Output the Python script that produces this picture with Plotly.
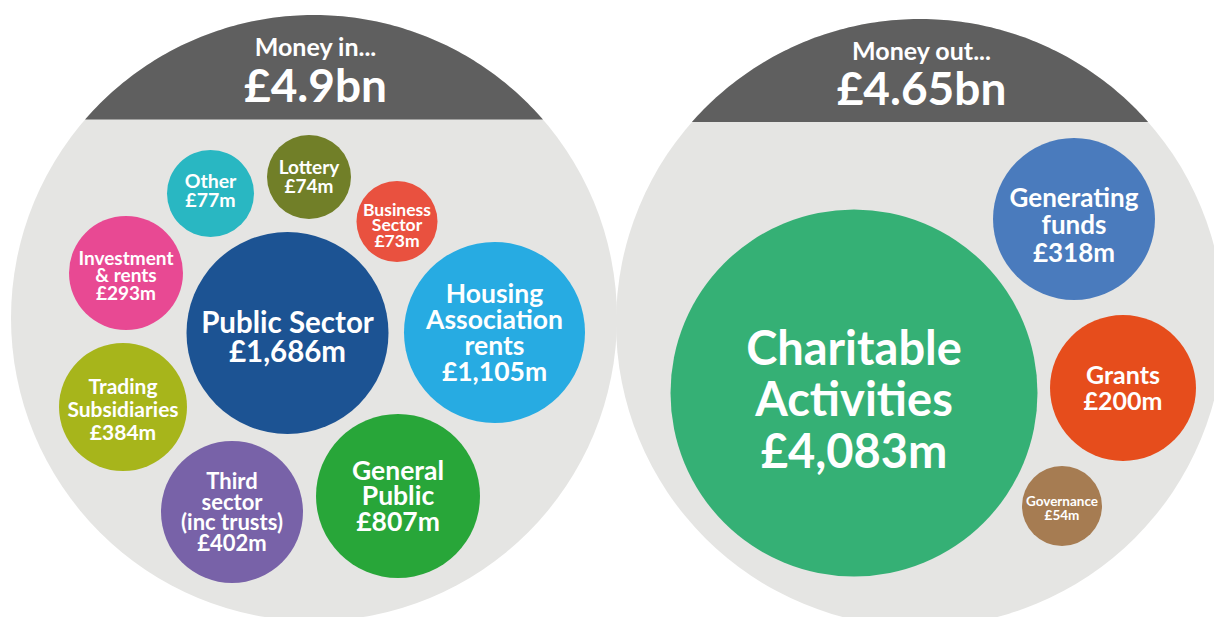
import numpy as np
import plotly.graph_objects as go

# ---------------- data ----------------
in_names = ["Other", "Lottery", "Business<br>Sector", "Investment<br>& rents", "Public Sector",
            "Housing<br>Association<br>rents", "Trading<br>Subsidiaries",
            "Third<br>sector<br>(inc trusts)", "General<br>Public"]
in_values = [77, 74, 73, 293, 1686, 1105, 384, 402, 807]

out_names = ["Charitable<br>Activities", "Generating<br>funds", "Grants", "Governance"]
out_values = [4083, 318, 200, 54]

panel_titles = ["Money in...", "Money out..."]
panel_totals = ["£4.9bn", "£4.65bn"]

# ---------------- layout (pixels) ----------------
W, H = 1214, 617
FONT = "Lato"
BASE_SHIFT = 0.07  # vertical optical correction, in em

panel_cx = [314, 920]
panel_cy = [318, 323]
panel_r = [303, 304]
panel_chord_y = [119.5, 122]
title_x = [315.5, 921.5]
title_y = [48, 52]
total_y = [87, 90]
title_size = 25
total_size = 46

in_cx = [210.5, 309, 397, 126, 287.5, 494.5, 123, 232, 398]
in_cy = [193.5, 177, 221.5, 273, 333, 332.5, 407, 512, 496]
in_r = [43.5, 42, 40.5, 57, 101, 90.5, 64, 71, 82]
in_ty = [191.5, 177.5, 225.5, 276, 338, 333.5, 410, 513, 497]
in_fs = [19.5, 19, 17.5, 19, 29.5, 26.5, 21, 22, 26.5]
in_ls = [19, 19, 15.5, 17.5, 29, 25.7, 23, 20.7, 25.7]
in_colors = ["#29b7c2", "#717f28", "#e9513f", "#e84993", "#1c5393",
             "#27abe2", "#a7b51b", "#7862a8", "#28a639"]

out_cx = [854, 1074, 1123, 1062]
out_cy = [393, 219, 388, 506]
out_r = [183.5, 81, 73, 40]
out_ty = [401, 226, 389, 508.5]
out_fs = [47, 26, 25, 13.5]
out_ls = [51.5, 27.5, 26, 13.5]
out_colors = ["#35b075", "#4a7bbd", "#e64d1c", "#a67c52"]

LIGHT = "#e5e5e3"
DARK = "#5f5f5f"

fig = go.Figure()

# big panel circles and dark caps
shapes = []
for cx, cy, r, cy_chord in zip(panel_cx, panel_cy, panel_r, panel_chord_y):
    shapes.append(dict(type="circle", xref="x", yref="y", x0=cx - r, x1=cx + r,
                       y0=cy - r, y1=cy + r, fillcolor=LIGHT, line_width=0, layer="below"))
    dy = cy - cy_chord
    a0 = np.arccos(dy / r)
    angs = np.linspace(-a0, a0, 120)
    xs = cx + r * np.sin(angs)
    ys = cy - r * np.cos(angs)
    path = "M " + " L ".join(f"{x:.2f},{y:.2f}" for x, y in zip(xs, ys)) + " Z"
    shapes.append(dict(type="path", xref="x", yref="y", path=path,
                       fillcolor=DARK, line_width=0, layer="below"))

# bubbles
def add_bubbles(cx, cy, r, colors):
    fig.add_trace(go.Scatter(
        x=cx, y=cy, mode="markers",
        marker=dict(size=[2 * v for v in r], sizemode="diameter", color=colors,
                    line=dict(width=0), opacity=1),
        hoverinfo="skip", showlegend=False))

add_bubbles(in_cx, in_cy, in_r, in_colors)
add_bubbles(out_cx, out_cy, out_r, out_colors)

# labels, line by line
lx, ly, lt, ls_ = [], [], [], []
def add_labels(names, values, cx, ty, fs, lsp):
    for name, v, x, y, f, s in zip(names, values, cx, ty, fs, lsp):
        lines = name.split("<br>") + [f"£{v:,}m"]
        n = len(lines)
        for i, t in enumerate(lines):
            lx.append(x)
            ly.append(y + (i - (n - 1) / 2) * s + BASE_SHIFT * f)
            lt.append(t)
            ls_.append(f)

add_labels(in_names, in_values, in_cx, in_ty, in_fs, in_ls)
add_labels(out_names, out_values, out_cx, out_ty, out_fs, out_ls)

for i in range(2):
    lx += [title_x[i], title_x[i]]
    ly += [title_y[i] + BASE_SHIFT * title_size, total_y[i] + BASE_SHIFT * total_size]
    lt += [panel_titles[i], panel_totals[i]]
    ls_ += [title_size, total_size]

fig.add_trace(go.Scatter(
    x=lx, y=ly, mode="text", text=lt, textposition="middle center",
    textfont=dict(family=FONT, size=ls_, color="white", weight=700),
    hoverinfo="skip", showlegend=False))

fig.update_layout(
    width=W, height=H, margin=dict(l=0, r=0, t=0, b=0),
    paper_bgcolor="white", plot_bgcolor="white",
    shapes=shapes,
    xaxis=dict(range=[0, W], visible=False, fixedrange=True),
    yaxis=dict(range=[H, 0], visible=False, fixedrange=True),
)

fig.write_html("out.html", config={"displayModeBar": False},
               post_script="document.body.style.margin='0';document.body.style.overflow='hidden';")
